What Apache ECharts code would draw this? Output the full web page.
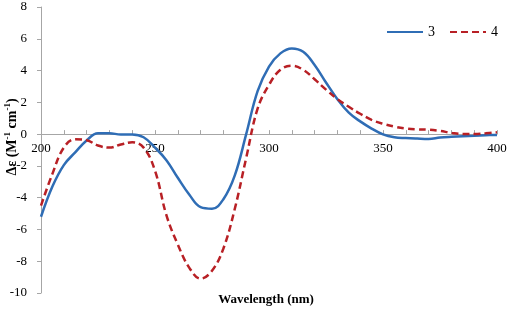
<!DOCTYPE html>
<html>
<head>
<meta charset="utf-8">
<script src="https://cdn.jsdelivr.net/npm/echarts@6/dist/echarts.min.js"></script>
<style>
  html, body { margin: 0; padding: 0; background: #fff; }
  #cd_chart { width: 510px; height: 310px; }
</style>
</head>
<body>
<div id="cd_chart"></div>
<script>
// wavelength (nm), 5 nm steps
const wavelength = [200, 205, 210, 215, 220, 225, 230, 235, 240, 245,
  250, 255, 260, 265, 270, 275, 280, 285, 290, 295,
  300, 305, 310, 315, 320, 325, 330, 335, 340, 345,
  350, 355, 360, 365, 370, 375, 380, 385, 390, 395, 400]

// compound 3 (solid blue)
const cd3 = [-5.2, -3.3, -1.95, -1.15, -0.4, 0.05, 0.05, -0.02, -0.02, -0.2,
  -0.85, -1.64, -2.75, -3.8, -4.6, -4.7, -4.1, -2.6, 0.0, 2.7,
  4.25, 5.08, 5.39, 5.18, 4.35, 3.25, 2.2, 1.35, 0.8, 0.35,
  -0.02, -0.2, -0.25, -0.28, -0.3, -0.22, -0.17, -0.13, -0.1, -0.07, -0.05]

// compound 4 (dashed red)
const cd4 = [-4.5, -2.5, -0.85, -0.33, -0.38, -0.72, -0.85, -0.65, -0.52, -0.85,
  -2.3, -5.1, -6.95, -8.4, -9.1, -8.6, -7.2, -4.7, -1.5, 1.6,
  3.1, 4.05, 4.3, 4.05, 3.45, 2.8, 2.2, 1.72, 1.28, 0.9,
  0.65, 0.47, 0.35, 0.3, 0.28, 0.2, 0.08, 0.01, 0.01, 0.05, 0.11]

const seriesNames = ['3', '4']
const xLabelStep = 50
const yMin = -10
const yMax = 8

const serif = '"Liberation Serif", "Times New Roman", serif'
const axisGray = '#a6a6a6'
const blue = '#2f6db5'
const red = '#b82025'

// plot box
const gridTop = 7
const gridBottom = 17
const plotHeight = 310 - gridTop - gridBottom
// move the x axis (line, ticks, labels) up to y = 0
const xAxisOffset = -plotHeight * (0 - yMin) / (yMax - yMin)

const chartDom = document.getElementById('cd_chart')
const myChart = echarts.init(chartDom, null, {renderer: 'canvas'})

function pairs(ys) {
  return wavelength.map((x, i) => [x, ys[i]])
}

const option = {
  animation: false,
  backgroundColor: '#ffffff',
  grid: {
    left: 41,
    right: 13,
    top: gridTop,
    bottom: gridBottom,
    containLabel: false
  },
  legend: {
    data: seriesNames,
    orient: 'horizontal',
    right: 7,
    top: 20,
    padding: 5,
    itemWidth: 36,
    itemHeight: 14,
    itemGap: 14,
    itemStyle: {opacity: 0},
    textStyle: {
      fontFamily: serif,
      fontSize: 14,
      color: '#000'
    }
  },
  xAxis: {
    type: 'value',
    min: 200,
    max: 400,
    interval: 10,
    offset: xAxisOffset,
    axisLine: {
      onZero: false,
      lineStyle: {color: axisGray, width: 1}
    },
    axisTick: {
      inside: true,
      length: 4,
      lineStyle: {color: axisGray}
    },
    axisLabel: {
      margin: 8,
      fontFamily: serif,
      fontSize: 13,
      color: '#000',
      formatter: v => (v % xLabelStep === 0 ? String(v) : '')
    },
    splitLine: {show: false}
  },
  yAxis: {
    type: 'value',
    min: yMin,
    max: yMax,
    interval: 2,
    axisLine: {
      show: true,
      lineStyle: {color: axisGray, width: 1}
    },
    axisTick: {
      show: true,
      length: 4,
      lineStyle: {color: axisGray}
    },
    axisLabel: {
      margin: 14,
      fontFamily: serif,
      fontSize: 13,
      color: '#000'
    },
    splitLine: {show: false}
  },
  graphic: [
    {
      type: 'text',
      x: 266,
      y: 300,
      style: {
        text: 'Wavelength (nm)',
        font: 'bold 13px ' + serif,
        fill: '#000',
        align: 'center',
        verticalAlign: 'middle',
        textAlign: 'center',
        textVerticalAlign: 'middle'
      }
    },
    {
      type: 'text',
      x: 11,
      y: 137,
      rotation: Math.PI / 2,
      style: {
        text: '{b|Δε (M}{s|-1}{b| cm}{s|-1}{b|)}',
        align: 'center',
        verticalAlign: 'middle',
        textAlign: 'center',
        textVerticalAlign: 'middle',
        rich: {
          b: {
            font: 'bold 14px ' + serif,
            fill: '#000',
            lineHeight: 16,
            verticalAlign: 'bottom'
          },
          s: {
            font: 'bold 9px ' + serif,
            fill: '#000',
            lineHeight: 16,
            verticalAlign: 'top'
          }
        }
      }
    }
  ],
  series: [
    {
      name: seriesNames[0],
      type: 'line',
      data: pairs(cd3),
      smooth: 0.4,
      symbol: 'none',
      color: blue,
      lineStyle: {color: blue, width: 2.5}
    },
    {
      name: seriesNames[1],
      type: 'line',
      data: pairs(cd4),
      smooth: 0.4,
      symbol: 'none',
      color: red,
      lineStyle: {color: red, width: 2.5, type: [7, 4]}
    }
  ]
}

myChart.setOption(option)
</script>
</body>
</html>
